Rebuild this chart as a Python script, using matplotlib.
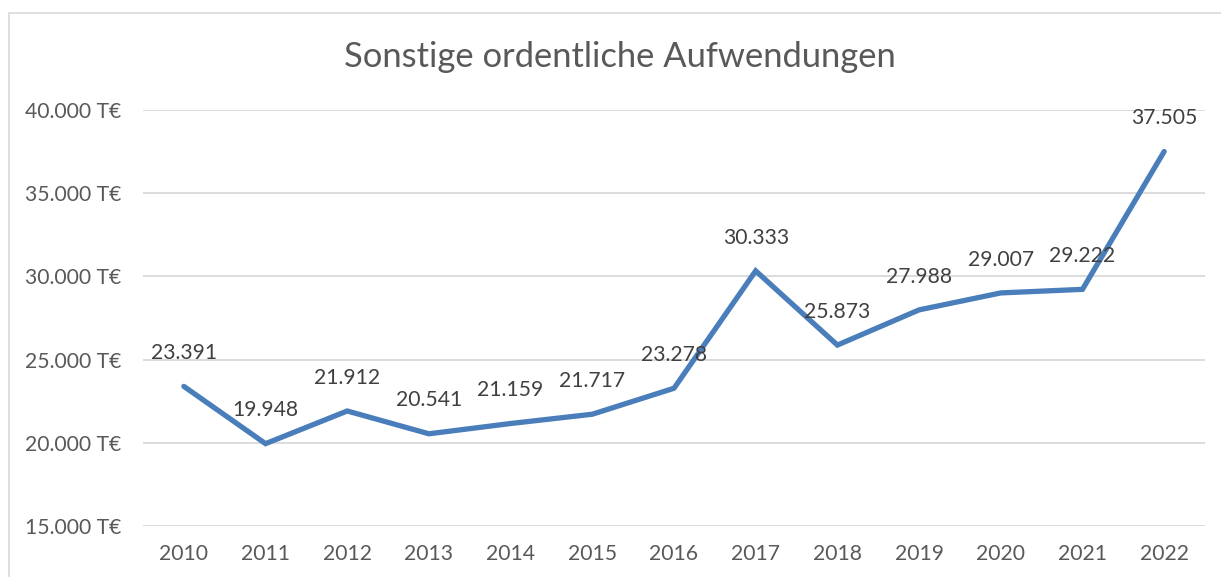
import matplotlib
matplotlib.use("Agg")
import matplotlib.pyplot as plt
from matplotlib.patches import Rectangle
from matplotlib.ticker import FuncFormatter
import matplotlib.transforms as mtransforms

years = ["2010", "2011", "2012", "2013", "2014", "2015", "2016",
         "2017", "2018", "2019", "2020", "2021", "2022"]
values = [23391, 19948, 21912, 20541, 21159, 21717, 23278,
          30333, 25873, 27988, 29007, 29222, 37505]
yticks = [15000, 20000, 25000, 30000, 35000, 40000]
title = "Sonstige ordentliche Aufwendungen"

plt.rcParams['font.family'] = ['Lato', 'DejaVu Sans']

W, H = 1221, 577
fig = plt.figure(figsize=(W / 100, H / 100), dpi=100)
fig.patch.set_facecolor("white")

# chart frame
fig.patches.append(Rectangle((9 / W, 1 - 700 / H), 1300 / W, (700 - 13) / H,
                             transform=fig.transFigure, fill=False,
                             edgecolor="#d9d9d9", linewidth=1.2))

ax = fig.add_axes([143 / W, 1 - 526 / H, (1205 - 143) / W, (526 - 110) / H])
x = list(range(len(years)))
ax.plot(x, values, color="#4a7ebb", linewidth=3.8, solid_capstyle="round",
        solid_joinstyle="miter", zorder=3)
ax.set_xlim(-0.5, len(years) - 0.5)
ax.set_ylim(15000, 40000)
ax.set_yticks(yticks)
ax.yaxis.set_major_formatter(FuncFormatter(
    lambda v, p: f"{int(v):,}".replace(",", ".") + " T€"))
ax.set_xticks(x)
ax.set_xticklabels(years)
ax.grid(axis="y", color="#d9d9d9", linewidth=1.3)
ax.set_axisbelow(True)
for s in ax.spines.values():
    s.set_visible(False)
ax.tick_params(axis="both", length=0, labelsize=15.2, colors="#595959")
ax.tick_params(axis="x", pad=13)
for lbl in ax.get_yticklabels():
    lbl.set_horizontalalignment("left")
    lbl.set_transform(ax.get_yaxis_transform() +
                      mtransforms.ScaledTranslation(-118 / 100, 0, fig.dpi_scale_trans))

for xi, v in zip(x, values):
    ax.annotate(f"{v:,}".replace(",", "."), (xi, v), xytext=(0, 24),
                textcoords="offset points", ha="center", va="center",
                fontsize=15.2, color="#404040", zorder=4)

fig.text(620 / W, 1 - 57 / H, title, ha="center", va="center",
         fontsize=24.8, color="#595959")

fig.savefig("out.png", dpi=100)
